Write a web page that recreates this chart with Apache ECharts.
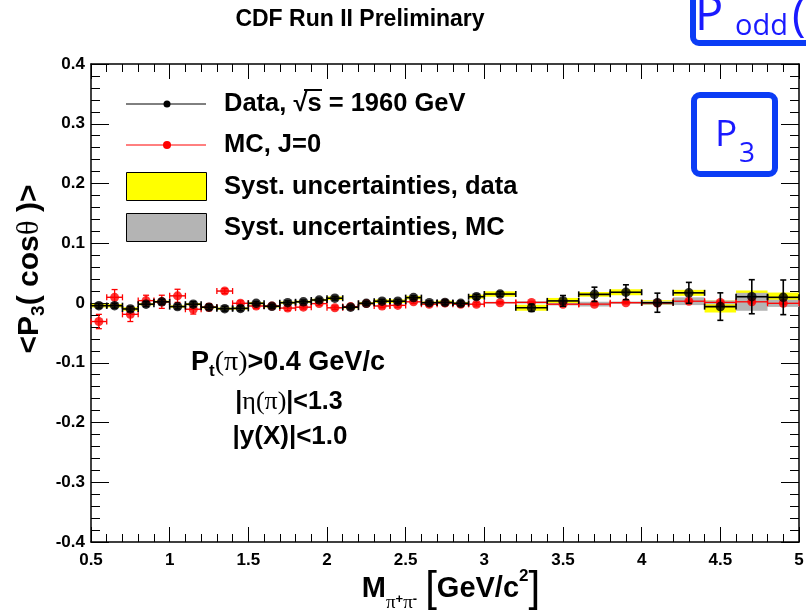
<!DOCTYPE html>
<html><head><meta charset="utf-8">
<script src="https://cdn.jsdelivr.net/npm/echarts@6/dist/echarts.min.js"></script>
<style>html,body{margin:0;padding:0;background:#fff}#c{width:806px;height:613px}</style>
</head><body><div id="c"></div>
<script>
// ---- data ----
const massCenters = [0.55,0.65,0.75,0.85,0.95,1.05,1.15,1.25,1.35,1.45,1.55,1.65,1.75,1.85,1.95,2.05,2.15,2.25,2.35,2.45,2.55,2.65,2.75,2.85,2.95,3.1,3.3,3.5,3.7,3.9,4.1,4.3,4.5,4.7,4.9];
const binHalfWidths = [0.05,0.05,0.05,0.05,0.05,0.05,0.05,0.05,0.05,0.05,0.05,0.05,0.05,0.05,0.05,0.05,0.05,0.05,0.05,0.05,0.05,0.05,0.05,0.05,0.05,0.1,0.1,0.1,0.1,0.1,0.1,0.1,0.1,0.1,0.1];
const dataValues = [-0.0045,-0.0045,-0.010,-0.002,0.002,-0.006,-0.002,-0.007,-0.0095,-0.009,-0.0005,-0.0055,0.0005,0.002,0.005,0.008,-0.007,-0.0005,0.003,0.003,0.009,0.0005,0.001,-0.0005,0.0105,0.015,-0.008,0.0035,0.0145,0.018,0.0005,0.017,-0.006,0.0105,0.0095];
const dataStat = [0.004,0.004,0.004,0.004,0.004,0.004,0.004,0.004,0.004,0.004,0.003,0.003,0.003,0.003,0.003,0.003,0.003,0.003,0.003,0.003,0.003,0.003,0.004,0.004,0.004,0.004,0.006,0.009,0.012,0.0125,0.016,0.0175,0.023,0.0285,0.029];
const dataSyst = [0.003,0.003,0.003,0.002,0.002,0.002,0.002,0.002,0.002,0.002,0.002,0.002,0.002,0.002,0.002,0.003,0.002,0.002,0.003,0.003,0.003,0.002,0.003,0.002,0.0035,0.0045,0.005,0.005,0.004,0.005,0.004,0.005,0.010,0.0105,0.008];
const mcValues = [-0.031,0.0095,-0.019,0.004,0.002,0.012,-0.0105,-0.007,0.020,-0.0005,-0.005,-0.005,-0.0085,-0.007,-0.001,-0.008,-0.006,-0.001,-0.005,-0.004,0.002,-0.002,0.0,-0.002,-0.002,0.0005,0.001,-0.002,-0.002,0.0005,0.0,0.003,0.001,0.002,-0.0005];
const mcStat = [0.012,0.013,0.012,0.009,0.011,0.011,0.008,0.006,0.004,0.004,0.004,0.004,0.004,0.003,0.003,0.003,0.003,0.003,0.003,0.003,0.003,0.003,0.003,0.003,0.003,0.002,0.002,0.002,0.002,0.002,0.002,0.002,0.002,0.002,0.002];
const mcSyst = [0.001,0.001,0.001,0.001,0.001,0.001,0.001,0.001,0.001,0.001,0.001,0.001,0.001,0.001,0.001,0.001,0.001,0.001,0.001,0.001,0.001,0.001,0.001,0.001,0.001,0.0015,0.002,0.002,0.004,0.002,0.003,0.0065,0.003,0.015,0.006];
const xTickLabels = ['0.5','1','1.5','2','2.5','3','3.5','4','4.5','5'];
const yTickLabels = ['-0.4','-0.3','-0.2','-0.1','0','0.1','0.2','0.3','0.4'];

// ---- helpers ----
const SANS = '"Liberation Sans", Arial, Helvetica, sans-serif';
const SERIF = '"Liberation Serif", "Times New Roman", serif';
const BLUEF = '"Open Sans", "Noto Sans", sans-serif';

function rows(vals, errs) {
  return massCenters.map((x, i) => [x, binHalfWidths[i], vals[i], errs[i]]);
}
function boxRender(color) {
  return function (params, api) {
    const x = api.value(0), hw = api.value(1), y = api.value(2), s = api.value(3);
    const p1 = api.coord([x - hw, y + s]);
    const p2 = api.coord([x + hw, y - s]);
    return {type: 'rect', shape: {x: p1[0], y: p1[1], width: p2[0] - p1[0], height: Math.max(1, p2[1] - p1[1])}, style: {fill: color}};
  };
}
function errRender(color, lw) {
  return function (params, api) {
    const x = api.value(0), hw = api.value(1), y = api.value(2), e = api.value(3);
    const c = api.coord([x, y]);
    const l = api.coord([x - hw, y]);
    const r = api.coord([x + hw, y]);
    const t = api.coord([x, y + e]);
    const b = api.coord([x, y - e]);
    const cap = 3;
    const st = {stroke: color, lineWidth: lw};
    const ch = [
      {type: 'line', shape: {x1: l[0], y1: c[1], x2: r[0], y2: c[1]}, style: st},
      {type: 'line', shape: {x1: l[0], y1: c[1] - cap, x2: l[0], y2: c[1] + cap}, style: st},
      {type: 'line', shape: {x1: r[0], y1: c[1] - cap, x2: r[0], y2: c[1] + cap}, style: st},
      {type: 'line', shape: {x1: c[0], y1: t[1], x2: c[0], y2: b[1]}, style: st},
      {type: 'line', shape: {x1: c[0] - cap, y1: t[1], x2: c[0] + cap, y2: t[1]}, style: st},
      {type: 'line', shape: {x1: c[0] - cap, y1: b[1], x2: c[0] + cap, y2: b[1]}, style: st}
    ];
    return {type: 'group', children: ch};
  };
}
const axisCommon = {
  type: 'value', splitLine: {show: false},
  axisLine: {show: true, onZero: false, lineStyle: {color: '#000', width: 1.5}},
};
const xAxisBase = Object.assign({}, axisCommon, {
  min: 0.5, max: 5, interval: 0.5,
  axisTick: {show: true, inside: true, length: 15, lineStyle: {color: '#000', width: 1}},
  minorTick: {show: true, splitNumber: 5, length: 8, lineStyle: {color: '#000', width: 1}},
});
const yAxisBase = Object.assign({}, axisCommon, {
  min: -0.4, max: 0.4, interval: 0.1,
  axisTick: {show: true, inside: true, length: 18, lineStyle: {color: '#000', width: 1}},
  minorTick: {show: true, splitNumber: 5, length: 9, lineStyle: {color: '#000', width: 1}},
});

const chart = echarts.init(document.getElementById('c'));
chart.setOption({
  animation: false,
  backgroundColor: '#fff',
  grid: {left: 91, right: 7, top: 64, bottom: 71, containLabel: false, outerBoundsMode: 'none'},
  xAxis: [
    Object.assign({}, xAxisBase, {position: 'bottom',
      axisLabel: {show: true, margin: 10, color: '#000', fontSize: 17, fontWeight: 'bold', fontFamily: SANS,
        formatter: v => xTickLabels[Math.round((v - 0.5) / 0.5)] || ''}}),
    Object.assign({}, xAxisBase, {position: 'top', axisLabel: {show: false}})
  ],
  yAxis: [
    Object.assign({}, yAxisBase, {position: 'left',
      axisLabel: {show: true, margin: 6, color: '#000', fontSize: 17, fontWeight: 'bold', fontFamily: SANS,
        formatter: v => yTickLabels[Math.round((v + 0.4) / 0.1)] || ''}}),
    Object.assign({}, yAxisBase, {position: 'right', axisLabel: {show: false}})
  ],
  series: [
    {type: 'custom', name: 'Syst. data', z: 1, renderItem: boxRender('#ffff00'), data: rows(dataValues, dataSyst), encode: {x: 0, y: 2}},
    {type: 'custom', name: 'Syst. MC', z: 2, renderItem: boxRender('#b4b4b4'), data: rows(mcValues, mcSyst), encode: {x: 0, y: 2}},
    {type: 'custom', name: 'MC err', z: 3, renderItem: errRender('#ff0000', 1.3), data: rows(mcValues, mcStat), encode: {x: 0, y: 2}},
    {type: 'scatter', name: 'MC, J=0', z: 4, symbol: 'circle', symbolSize: 9, itemStyle: {color: '#ff0000'},
      data: massCenters.map((x, i) => [x, mcValues[i]])},
    {type: 'custom', name: 'Data err', z: 5, renderItem: errRender('#000000', 1.6), data: rows(dataValues, dataStat), encode: {x: 0, y: 2}},
    {type: 'scatter', name: 'Data', z: 6, symbol: 'circle', symbolSize: 9.5, itemStyle: {color: '#000000'},
      data: massCenters.map((x, i) => [x, dataValues[i]])}
  ],
  graphic: [
    // title
    {type: 'text', x: 360, y: 20, style: {text: 'CDF Run II Preliminary', fill: '#000', fontSize: 23, fontWeight: 'bold', fontFamily: SANS, textAlign: 'center', textVerticalAlign: 'middle'}},
    // P_odd box (cut at top/right)
    {type: 'rect', shape: {x: 693, y: -20, width: 140, height: 63, r: 6}, style: {fill: 'none', stroke: '#0b3cf5', lineWidth: 6}},
    {type: 'text', x: 695, y: 17, style: {text: 'P', fill: '#1a1aff', fontSize: 47, fontFamily: BLUEF, textAlign: 'left', textVerticalAlign: 'middle'}},
    {type: 'text', x: 735, y: 27, style: {text: 'odd', fill: '#1a1aff', fontSize: 29, fontFamily: BLUEF, textAlign: 'left', textVerticalAlign: 'middle'}},
    {type: 'text', x: 792, y: 18, style: {text: '(', fill: '#1a1aff', fontSize: 46, fontFamily: BLUEF, textAlign: 'left', textVerticalAlign: 'middle'}},
    // P3 box
    {type: 'rect', shape: {x: 694, y: 95, width: 81, height: 79, r: 6}, style: {fill: '#fff', stroke: '#0b3cf5', lineWidth: 6}},
    {type: 'text', x: 715, y: 135, style: {text: 'P', fill: '#1a1aff', fontSize: 37, fontFamily: BLUEF, textAlign: 'left', textVerticalAlign: 'middle'}},
    {type: 'text', x: 739, y: 154, style: {text: '3', fill: '#1a1aff', fontSize: 28, fontFamily: BLUEF, textAlign: 'left', textVerticalAlign: 'middle'}},
    // legend
    {type: 'line', shape: {x1: 126, y1: 104, x2: 206, y2: 104}, style: {stroke: '#000', lineWidth: 1}},
    {type: 'circle', shape: {cx: 167, cy: 104, r: 3.5}, style: {fill: '#000'}},
    {type: 'line', shape: {x1: 126, y1: 145, x2: 206, y2: 145}, style: {stroke: '#ff0000', lineWidth: 1}},
    {type: 'circle', shape: {cx: 167, cy: 145, r: 4}, style: {fill: '#ff0000'}},
    {type: 'rect', shape: {x: 126.5, y: 172.5, width: 80, height: 28}, style: {fill: '#ffff00', stroke: '#000', lineWidth: 1}},
    {type: 'rect', shape: {x: 126.5, y: 213.5, width: 80, height: 28}, style: {fill: '#b4b4b4', stroke: '#000', lineWidth: 1}},
    {type: 'text', x: 224, y: 104, style: {text: 'Data, √s = 1960 GeV', fill: '#000', fontSize: 25.5, fontWeight: 'bold', fontFamily: SANS, textAlign: 'left', textVerticalAlign: 'middle'}},
    {type: 'line', shape: {x1: 304, y1: 90, x2: 322, y2: 90}, style: {stroke: '#000', lineWidth: 2}},
    {type: 'text', x: 224, y: 145, style: {text: 'MC, J=0', fill: '#000', fontSize: 25.5, fontWeight: 'bold', fontFamily: SANS, textAlign: 'left', textVerticalAlign: 'middle'}},
    {type: 'text', x: 224, y: 187, style: {text: 'Syst. uncertainties, data', fill: '#000', fontSize: 25.5, fontWeight: 'bold', fontFamily: SANS, textAlign: 'left', textVerticalAlign: 'middle'}},
    {type: 'text', x: 224, y: 228, style: {text: 'Syst. uncertainties, MC', fill: '#000', fontSize: 25.5, fontWeight: 'bold', fontFamily: SANS, textAlign: 'left', textVerticalAlign: 'middle'}},
    // cuts annotation
    {type: 'text', x: 288, y: 363, style: {text: '{b|P}{s|t}{g|(π)}{b|>0.4 GeV/c}', textAlign: 'center', textVerticalAlign: 'middle',
      rich: {b: {fontSize: 27, fontWeight: 'bold', fontFamily: SANS, fill: '#000'},
             s: {fontSize: 17, fontWeight: 'bold', fontFamily: SANS, fill: '#000', padding: [16, 0, 0, 0]},
             g: {fontSize: 28, fontFamily: SERIF, fill: '#000'}}}},
    {type: 'text', x: 289, y: 402, style: {text: '{b||}{g|η(π)}{b||<1.3}', textAlign: 'center', textVerticalAlign: 'middle',
      rich: {b: {fontSize: 25, fontWeight: 'bold', fontFamily: SANS, fill: '#000'},
             g: {fontSize: 26, fontFamily: SERIF, fill: '#000'}}}},
    {type: 'text', x: 290, y: 437, style: {text: '|y(X)|<1.0', fill: '#000', fontSize: 26, fontWeight: 'bold', fontFamily: SANS, textAlign: 'center', textVerticalAlign: 'middle'}},
    // x axis title
    {type: 'text', x: 451, y: 589, style: {text: '{b|M}{s|π}{ss|+}{s|π}{ss|-}{b| }{br|[}{b|GeV/c}{sup|2}{br|]}', textAlign: 'center', textVerticalAlign: 'middle',
      rich: {b: {fontSize: 29, fontWeight: 'bold', fontFamily: SANS, fill: '#000'},
             s: {fontSize: 19, fontFamily: SERIF, fill: '#000', padding: [28, 0, 0, 0]},
             ss: {fontSize: 13, fontWeight: 'bold', fontFamily: SANS, fill: '#000', padding: [20, 0, 0, 0]},
             br: {fontSize: 42, fontFamily: SANS, fill: '#000'},
             sup: {fontSize: 17, fontWeight: 'bold', fontFamily: SANS, fill: '#000', padding: [0, 0, 25, 0]}}}},
    // y axis title (rotated)
    {type: 'text', x: 30, y: 269, rotation: Math.PI / 2, style: {text: '{b|<P}{s|3}{b|( cos}{g|θ}{b| )>}', textAlign: 'center', textVerticalAlign: 'middle',
      rich: {b: {fontSize: 30, fontWeight: 'bold', fontFamily: SANS, fill: '#000'},
             s: {fontSize: 19, fontWeight: 'bold', fontFamily: SANS, fill: '#000', padding: [17, 0, 0, 0]},
             g: {fontSize: 31, fontFamily: SERIF, fill: '#000'}}}}
  ]
});
</script></body></html>
